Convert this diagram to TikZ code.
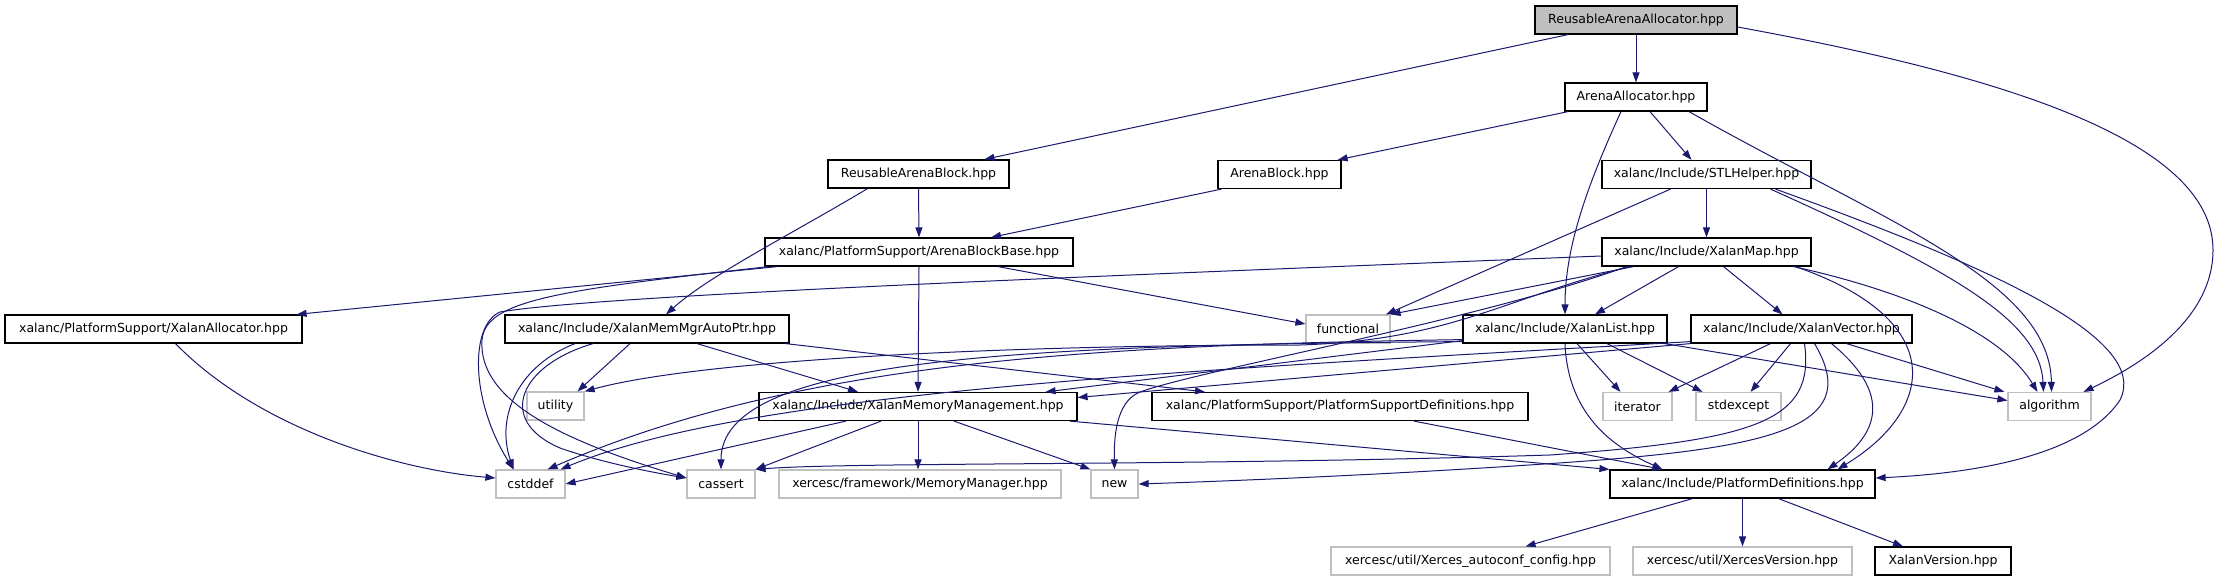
\documentclass[tikz,border=0pt]{standalone}
\usepackage{fontspec}
\setmainfont{DejaVu Sans}
\usetikzlibrary{arrows.meta}
\definecolor{edgec}{RGB}{25,25,112}
\definecolor{extc}{RGB}{191,191,191}
\definecolor{rootc}{RGB}{191,191,191}
\tikzset{
  box/.style={draw=black, line width=1.2pt, minimum height=28pt, inner sep=0pt, font=\fontsize{12.5}{15}\selectfont},
  ext/.style={box, draw=extc},
  root/.style={box, fill=rootc},
  arr/.style={draw=edgec, line width=1pt, -{Triangle[length=10pt,width=7pt]}}
}
\begin{document}
\begin{tikzpicture}[x=1pt,y=-1pt]
\useasboundingbox (0,0) rectangle (2219,581);
% nodes
\node[root, minimum width=202pt] (RAA) at (1636,20) {ReusableArenaAllocator.hpp};
\node[box, minimum width=142pt] (AA) at (1636,97) {ArenaAllocator.hpp};
\node[box, minimum width=123pt] (AB) at (1279.5,174.5) {ArenaBlock.hpp};
\node[box, minimum width=209pt] (STL) at (1706.5,174.5) {xalanc/Include/STLHelper.hpp};
\node[box, minimum width=209pt] (XM) at (1706.5,252) {xalanc/Include/XalanMap.hpp};
\node[box, minimum width=181pt] (RAB) at (918.5,174) {ReusableArenaBlock.hpp};
\node[box, minimum width=308pt] (ABB) at (919,252) {xalanc/PlatformSupport/ArenaBlockBase.hpp};
\node[box, minimum width=297pt] (XA) at (153.5,329) {xalanc/PlatformSupport/XalanAllocator.hpp};
\node[box, minimum width=284pt] (XMMAP) at (647,329) {xalanc/Include/XalanMemMgrAutoPtr.hpp};
\node[ext, minimum width=57pt] (utility) at (555.5,406) {utility};
\node[box, minimum width=318pt] (XMM) at (918,406.5) {xalanc/Include/XalanMemoryManagement.hpp};
\node[ext, minimum width=69pt] (cstddef) at (530.5,484) {cstddef};
\node[ext, minimum width=68pt] (cassert) at (721,484) {cassert};
\node[ext, minimum width=282pt] (MM) at (920,484) {xercesc/framework/MemoryManager.hpp};
\node[ext, minimum width=47pt] (new) at (1114.5,484) {new};
\node[ext, minimum width=84pt] (functional) at (1348,329) {functional};
\node[box, minimum width=204pt] (XL) at (1565,329) {xalanc/Include/XalanList.hpp};
\node[box, minimum width=221pt] (XV) at (1801.5,329) {xalanc/Include/XalanVector.hpp};
\node[box, minimum width=376pt] (PSD) at (1340,406.5) {xalanc/PlatformSupport/PlatformSupportDefinitions.hpp};
\node[ext, minimum width=69pt] (iterator) at (1637.5,406.5) {iterator};
\node[ext, minimum width=85pt] (stdexcept) at (1738.5,406.5) {stdexcept};
\node[ext, minimum width=83pt] (algorithm) at (2049.5,406.5) {algorithm};
\node[box, minimum width=265pt] (PD) at (1742.5,484) {xalanc/Include/PlatformDefinitions.hpp};
\node[ext, minimum width=279pt] (XAC) at (1470.5,561) {xercesc/util/Xerces\_autoconf\_config.hpp};
\node[ext, minimum width=219pt] (XVer) at (1742.5,561) {xercesc/util/XercesVersion.hpp};
\node[box, minimum width=136pt] (XalV) at (1943,561) {XalanVersion.hpp};
% RAA
\draw[arr] (RAA.south) -- (AA.north);
\draw[arr] ([xshift=-68pt]RAA.south) -- ([xshift=66pt]RAB.north);
\draw[arr] ([yshift=-7pt]RAA.east) .. controls (2000,75) and (2213,140) .. (2213,250) .. controls (2213,320) and (2140,365) .. ([xshift=34pt]algorithm.north);
% AA
\draw[arr] ([xshift=-68pt]AA.south) -- ([xshift=-4pt]AB.north east);
\draw[arr] ([xshift=14pt]AA.south) -- ([xshift=-15pt]STL.north);
\draw[arr] ([xshift=-15pt]AA.south) .. controls (1585,190) and (1565,250) .. (XL.north);
\draw[arr] ([xshift=53pt]AA.south) .. controls (1880,220) and (2050,280) .. ([xshift=2pt]algorithm.north);
% AB, RAB
\draw[arr] ([xshift=4pt]AB.south west) -- ([xshift=72pt]ABB.north);
\draw[arr] (RAB.south) -- (ABB.north);
\draw[arr] ([xshift=-51pt]RAB.south) .. controls (790,235) and (710,275) .. ([xshift=19pt]XMMAP.north);
% ABB
\draw[arr] ([xshift=13pt]ABB.south west) -- ([xshift=-6pt]XA.north east);
\draw[arr] ([xshift=4pt]ABB.south west) .. controls (560,290) and (485,300) .. (482,340) .. controls (478,400) and (560,440) .. ([yshift=6pt]cassert.west);
\draw[arr] ([xshift=79pt]ABB.south) -- ([yshift=5pt]functional.west);
\draw[arr] (ABB.south) -- (XMM.north);
% XA
\draw[arr] ([xshift=22pt]XA.south) .. controls (260,430) and (400,470) .. ([yshift=6pt]cstddef.west);
% XMMAP
\draw[arr] ([xshift=-17pt]XMMAP.south) -- ([xshift=22pt]utility.north);
\draw[arr] ([xshift=-72pt]XMMAP.south) .. controls (520,365) and (495,415) .. ([xshift=-17pt]cstddef.north);
\draw[arr] ([xshift=-54pt]XMMAP.south) .. controls (520,365) and (495,420) .. (560,448) .. controls (600,462) and (650,472) .. ([yshift=6pt]cassert.west);
\draw[arr] ([xshift=50pt]XMMAP.south) -- ([xshift=-60pt]XMM.north);
\draw[arr] ([xshift=-4pt]XMMAP.south east) -- ([xshift=-135pt]PSD.north);
% XMM
\draw[arr] ([xshift=-72pt]XMM.south) -- (cstddef.east);
\draw[arr] ([xshift=-37pt]XMM.south) -- (cassert.north east);
\draw[arr] (XMM.south) -- (XMM.south |- MM.north);
\draw[arr] ([xshift=36pt]XMM.south) -- (new.north west);
\draw[arr] ([xshift=-8pt]XMM.south east) -- (PD.north west);
% PSD
\draw[arr] ([xshift=74pt]PSD.south) -- ([xshift=-80pt]PD.north);
% PD
\draw[arr] ([xshift=-50pt]PD.south) -- ([xshift=55pt]XAC.north);
\draw[arr] (PD.south) -- (XVer.north);
\draw[arr] ([xshift=36pt]PD.south) -- ([xshift=-40pt]XalV.north);
% STL
\draw[arr] (STL.south) -- (XM.north);
\draw[arr] ([xshift=-36pt]STL.south) -- ([xshift=38pt]functional.north);
\draw[arr] ([xshift=64pt]STL.south) .. controls (1950,270) and (2040,320) .. ([xshift=-6pt]algorithm.north);
\draw[arr] ([xshift=69pt]STL.south) .. controls (2000,270) and (2150,340) .. (2120,400) .. controls (2080,460) and (1960,474) .. ([yshift=6pt]PD.east);
% XM
\draw[arr] ([yshift=-4pt]XM.west) .. controls (1100,276) and (600,295) .. (500,312) .. controls (470,325) and (470,400) .. ([xshift=-17pt]cstddef.north);
\draw[arr] ([xshift=-73pt]XM.south) -- (functional.north east);
\draw[arr] ([xshift=-28pt]XM.south) -- ([xshift=30pt]XL.north);
\draw[arr] ([xshift=17pt]XM.south) -- ([xshift=-19pt]XV.north);
\draw[arr] ([xshift=87pt]XM.south) .. controls (1900,290) and (2000,330) .. ([xshift=-12pt]algorithm.north);
\draw[arr] ([xshift=89pt]XM.south) .. controls (1950,320) and (1935,410) .. ([xshift=95pt]PD.north);
\draw[arr] ([xshift=-77pt]XM.south) .. controls (1500,300) and (1450,340) .. (1300,345) .. controls (1000,345) and (700,360) .. (utility.north east);
\draw[arr] ([xshift=-80pt]XM.south) .. controls (1480,320) and (1200,370) .. (1140,392) .. controls (1115,402) and (1114,440) .. (new.north);
% XL
\draw[arr] ([xshift=12pt]XL.south) -- ([xshift=-17pt]iterator.north);
\draw[arr] ([xshift=42pt]XL.south) -- ([xshift=-36pt]stdexcept.north);
\draw[arr] ([xshift=-3pt]XL.south east) -- ([yshift=6pt]algorithm.west);
\draw[arr] (XL.south) .. controls (1568,420) and (1620,450) .. ([xshift=-80pt]PD.north);
\draw[arr] ([yshift=3pt]XL.south west) -- ([xshift=-32pt]XMM.north east);
\draw[arr] ([yshift=2pt]XL.south west) .. controls (1000,345) and (721,360) .. (cassert.north);
\draw[arr] ([yshift=4pt]XL.south west) .. controls (1100,345) and (800,360) .. ([xshift=17pt]cstddef.north);
% XV
\draw[arr] ([xshift=-31pt]XV.south) -- ([xshift=-4pt]iterator.north east);
\draw[arr] ([xshift=-11pt]XV.south) -- ([xshift=12pt]stdexcept.north);
\draw[arr] ([xshift=45pt]XV.south) -- ([xshift=-3pt]algorithm.north west);
\draw[arr] ([xshift=30pt]XV.south) .. controls (1900,400) and (1870,440) .. ([xshift=85pt]PD.north);
\draw[arr] ([xshift=3pt]XV.south) .. controls (1815,420) and (1760,440) .. (1550,455) .. controls (1200,466) and (850,462) .. (cassert.north east);
\draw[arr] ([xshift=13pt]XV.south) .. controls (1860,420) and (1790,445) .. (1600,460) .. controls (1400,475) and (1200,482) .. (new.east);
\draw[arr] (XV.south west) -- ([yshift=9pt]XMM.east);
\draw[arr] ([yshift=2pt]XV.south west) .. controls (1200,370) and (750,390) .. ([xshift=30pt]cstddef.north);
\end{tikzpicture}
\end{document}
